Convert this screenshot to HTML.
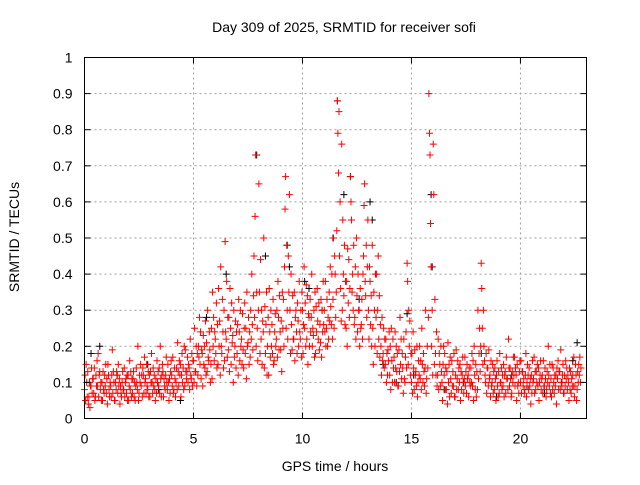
<!DOCTYPE html>
<html><head><meta charset="utf-8"><style>
body{margin:0;background:#fff;}
svg text{font-family:"Liberation Sans",sans-serif;font-size:14px;fill:#000;}
</style></head><body>
<svg id="chart" width="640" height="480" viewBox="0 0 640 480" xmlns="http://www.w3.org/2000/svg">
<rect width="640" height="480" fill="#fff"/>
<text x="344" y="32" text-anchor="middle">Day 309 of 2025, SRMTID for receiver sofi</text>
<text x="335" y="471" text-anchor="middle">GPS time / hours</text>
<text x="19" y="237" text-anchor="middle" transform="rotate(-90 19 237)">SRMTID / TECUs</text>
<g id="grid"></g>
<g id="marks"></g>
<rect x="84.5" y="57.5" width="502" height="361" fill="none" stroke="#000" stroke-width="1"/>
<g id="ticks"></g>
</svg>
<script>
const xTicks=[0,5,10,15,20];
const yTicks=[0,0.1,0.2,0.3,0.4,0.5,0.6,0.7,0.8,0.9,1];
const yTickLabels=["0","0.1","0.2","0.3","0.4","0.5","0.6","0.7","0.8","0.9","1"];
const redTimes=[0,0.2,0.4,0.6,0.8,1,1.2,1.4,1.6,1.8,2,2.2,2.4,2.6,2.8,3,3.2,3.4,3.6,3.8,4,4.2,4.4,4.6,4.8,5,5.2,5.4,5.6,5.8,6,6.2,6.4,6.6,6.8,7,7.2,7.4,7.6,7.8,8,8.2,8.4,8.6,8.8,9,9.2,9.4,9.6,9.8,10,10.2,10.4,10.6,10.8,11,11.2,11.4,11.6,11.8,12,12.2,12.4,12.6,12.8,13,13.2,13.4,13.6,13.8,14,14.2,14.4,14.6,14.8,15,15.2,15.4,15.6,15.8,16,16.2,16.4,16.6,16.8,17,17.2,17.4,17.6,17.8,18,18.2,18.4,18.6,18.8,19,19.2,19.4,19.6,19.8,20,20.2,20.4,20.6,20.8,21,21.2,21.4,21.6,21.8,22,22.2,22.4,22.6];
const redValues=[
[.08,.12,.05,.15],[.06,.10,.03,.09],[.11,.07,.14,.05],[.09,.18,.06,.12],[.10,.05,.13,.08],
[.07,.11,.04,.15],[.09,.06,.12,.19],[.05,.10,.08,.13],[.11,.04,.09,.07],[.08,.14,.06,.10],
[.12,.05,.09,.16],[.07,.11,.13,.06],[.10,.08,.20,.05],[.09,.12,.06,.14],[.11,.07,.15,.09],
[.06,.13,.10,.18],[.12,.08,.05,.11],[.09,.14,.07,.20],[.13,.06,.11,.09],[.08,.15,.10,.05],
[.12,.09,.17,.07],[.10,.14,.08,.21],[.15,.06,.12,.18],[.09,.19,.13,.11],[.14,.08,.22,.12],
[.16,.10,.25,.13],[.12,.20,.17,.28],[.18,.09,.23,.15],[.21,.13,.30,.17],[.15,.25,.11,.35],
[.22,.18,.32,.14],[.27,.12,.42,.20],[.30,.16,.49,.24],[.19,.28,.13,.36],[.23,.10,.30,.17],
[.18,.26,.12,.33],[.22,.15,.29,.19],[.25,.11,.35,.20],[.17,.30,.22,.40],[.28,.56,.73,.20],
[.65,.35,.18,.44],[.24,.50,.14,.31],[.20,.28,.12,.36],[.26,.18,.33,.15],[.22,.30,.17,.38],
[.19,.27,.13,.35],[.58,.67,.25,.48],[.62,.30,.18,.40],[.22,.35,.16,.28],[.27,.20,.38,.24],
[.30,.18,.26,.42],[.22,.34,.15,.29],[.28,.40,.20,.25],[.18,.31,.24,.36],[.26,.21,.33,.17],
[.30,.24,.38,.20],[.22,.35,.27,.42],[.33,.50,.25,.45],[.88,.79,.68,.85],[.76,.30,.55,.40],
[.25,.38,.20,.47],[.67,.60,.55,.35],[.28,.42,.22,.50],[.30,.20,.36,.25],[.45,.59,.65,.38],
[.55,.30,.22,.42],[.48,.25,.15,.35],[.40,.18,.30,.45],[.20,.12,.28,.16],[.15,.22,.10,.18],
[.12,.20,.08,.25],[.17,.10,.24,.14],[.09,.19,.13,.28],[.14,.07,.22,.11],[.43,.38,.15,.30],
[.10,.18,.07,.24],[.13,.09,.20,.06],[.11,.16,.08,.25],[.09,.14,.30,.07],[.90,.79,.73,.54],
[.76,.62,.15,.33],[.12,.22,.08,.18],[.10,.05,.15,.20],[.08,.13,.04,.21],[.11,.07,.16,.09],
[.06,.12,.19,.08],[.10,.15,.05,.13],[.07,.11,.17,.09],[.12,.06,.14,.10],[.09,.16,.05,.20],
[.13,.08,.30,.11],[.43,.36,.25,.15],[.10,.18,.07,.14],[.12,.06,.16,.09],[.08,.14,.11,.05],
[.13,.07,.18,.10],[.09,.15,.06,.12],[.11,.08,.22,.14],[.07,.13,.10,.17],[.12,.05,.15,.09],
[.10,.16,.07,.13],[.08,.12,.18,.06],[.14,.09,.11,.04],[.11,.17,.07,.13],[.09,.14,.05,.10],
[.12,.07,.16,.09],[.08,.13,.10,.20],[.11,.06,.15,.08],[.09,.12,.04,.14],[.13,.08,.19,.10],
[.07,.12,.09,.16],[.10,.05,.14,.08],[.12,.09,.17,.06],[.08,.13,.10,.15]];
const redValues2=[
[.10,.06,.13,.04],[.09,.14,.07,.11],[.06,.12,.09,.16],[.13,.08,.10,.05],[.07,.12,.09,.15],
[.12,.08,.06,.10],[.07,.13,.10,.05],[.12,.07,.15,.09],[.06,.10,.13,.08],[.11,.07,.12,.05],
[.08,.13,.06,.11],[.10,.05,.09,.14],[.07,.12,.10,.15],[.12,.07,.17,.10],[.08,.13,.06,.12],
[.10,.07,.14,.09],[.07,.16,.10,.13],[.11,.06,.12,.15],[.08,.12,.17,.10],[.11,.07,.13,.16],
[.08,.14,.11,.06],[.13,.09,.16,.12],[.10,.14,.08,.20],[.13,.17,.10,.15],[.11,.18,.09,.16],
[.13,.20,.09,.18],[.15,.24,.11,.19],[.20,.14,.27,.12],[.16,.24,.19,.10],[.20,.28,.16,.24],
[.26,.15,.36,.20],[.18,.33,.24,.14],[.22,.38,.17,.28],[.25,.15,.32,.21],[.20,.27,.14,.24],
[.24,.16,.30,.20],[.14,.25,.32,.18],[.21,.28,.15,.24],[.26,.19,.34,.45],[.35,.25,.16,.30],
[.22,.30,.15,.27],[.18,.26,.35,.12],[.24,.17,.30,.20],[.16,.24,.29,.20],[.28,.19,.34,.24],
[.25,.33,.20,.42],[.30,.22,.45,.35],[.26,.19,.34,.22],[.30,.24,.18,.32],[.22,.30,.17,.35],
[.25,.32,.20,.37],[.28,.20,.33,.24],[.23,.30,.17,.35],[.27,.22,.32,.19],[.30,.24,.38,.26],
[.25,.33,.20,.28],[.31,.26,.40,.22],[.40,.28,.35,.52],[.45,.60,.36,.27],[.34,.48,.26,.38],
[.32,.44,.28,.36],[.40,.30,.48,.26],[.34,.24,.40,.30],[.26,.33,.22,.40],[.34,.48,.28,.42],
[.38,.26,.34,.20],[.30,.20,.40,.28],[.22,.34,.17,.26],[.18,.25,.14,.22],[.12,.19,.16,.24],
[.16,.10,.22,.14],[.20,.13,.18,.09],[.15,.22,.11,.18],[.10,.17,.24,.14],[.20,.27,.12,.18],
[.14,.08,.19,.12],[.10,.16,.12,.20],[.15,.10,.18,.13],[.11,.20,.14,.28],[.42,.20,.30,.12],
[.18,.12,.24,.09],[.15,.09,.20,.13],[.12,.18,.08,.14],[.10,.15,.06,.17],[.13,.09,.18,.06],
[.11,.16,.08,.14],[.08,.12,.17,.10],[.13,.07,.15,.11],[.09,.14,.10,.18],[.12,.08,.15,.06],
[.18,.25,.13,.20],[.30,.20,.16,.12],[.14,.09,.19,.11],[.10,.15,.07,.13],[.12,.16,.09,.06],
[.10,.14,.08,.12],[.13,.07,.17,.11],[.09,.14,.11,.06],[.12,.17,.09,.14],[.10,.07,.13,.16],
[.13,.09,.11,.07],[.10,.15,.12,.08],[.12,.07,.16,.10],[.08,.13,.10,.15],[.12,.16,.08,.11],
[.09,.14,.11,.06],[.12,.09,.15,.07],[.14,.10,.07,.12],[.11,.16,.08,.13],[.09,.12,.15,.07],
[.11,.14,.08,.12],[.13,.07,.11,.09],[.09,.15,.12,.05],[.12,.17,.10,.14]];
const blackTimes=[0.3,0.7,1.5,2.9,3.4,4.4,5.6,6.5,7.9,8.3,9.3,9.4,10.1,10.3,10.9,11.4,11.6,11.9,12.2,12.6,13.1,13.2,13.7,14.3,14.8,15.1,15.9,15.95,16.5,17.4,18.2,18.9,19.6,20.3,21.1,21.9,22.4,22.6];
const blackValues=[0.18,0.20,0.12,0.15,0.08,0.05,0.28,0.40,0.73,0.45,0.48,0.42,0.38,0.36,0.30,0.50,0.88,0.62,0.67,0.33,0.60,0.55,0.15,0.10,0.29,0.12,0.62,0.42,0.08,0.10,0.18,0.06,0.12,0.09,0.07,0.10,0.16,0.21];

const X0=84.5,X1=586.5,Y0=418.5,Y1=57.5,XMAX=23.03;
function xs(t){return X0+(X1-X0)*t/XMAX;}
function ys(v){return Y0-(Y0-Y1)*v;}
const NS="http://www.w3.org/2000/svg";
const grid=document.getElementById('grid'),ticks=document.getElementById('ticks'),marks=document.getElementById('marks');
function mk(tag,attrs,parent){const e=document.createElementNS(NS,tag);for(const k in attrs)e.setAttribute(k,attrs[k]);parent.appendChild(e);return e;}
yTicks.forEach((v,i)=>{
  if(v>0&&v<1){const g=mk('line',{x1:X0,x2:X1,y1:ys(v),y2:ys(v),stroke:'#a0a0a0','stroke-dasharray':'2,3','stroke-width':1},grid);
  
  }
  const t1=mk('line',{x1:X0,x2:X0+6,y1:ys(v),y2:ys(v),stroke:'#000'},ticks);
  
  
  const t2=mk('line',{x1:X1-6,x2:X1,y1:ys(v),y2:ys(v),stroke:'#000'},ticks);
  
  
  const l=mk('text',{x:X0-12,y:ys(v)+5,'text-anchor':'end'},ticks);l.textContent=yTickLabels[i];
  
  
});
xTicks.forEach(t=>{
  const x=xs(t);
  if(t>0){const g=mk('line',{x1:x,x2:x,y1:Y1,y2:Y0,stroke:'#a0a0a0','stroke-dasharray':'2,3','stroke-width':1},grid);
  
  }
  const t1=mk('line',{x1:x,x2:x,y1:Y0,y2:Y0-6,stroke:'#000'},ticks);
  
  
  const t2=mk('line',{x1:x,x2:x,y1:Y1,y2:Y1+6,stroke:'#000'},ticks);
  
  
  const l=mk('text',{x:x,y:Y0+25,'text-anchor':'middle'},ticks);l.textContent=String(t);
  
  
});
function cross(x,y,color,name){
  const p=mk('path',{d:`M${x-3.5},${y}H${x+3.5}M${x},${y-3.5}V${y+3.5}`,stroke:color,'stroke-width':1,fill:'none'},marks);
  
  
}
blackTimes.forEach((t,i)=>cross(xs(t),ys(blackValues[i]),'#000','black-point'));
redTimes.forEach((t,i)=>{
  redValues[i].forEach((v,j)=>{cross(xs(t+j*0.025),ys(v),'#ff0000','red-point');});
  redValues2[i].forEach((v,j)=>{cross(xs(t+0.1+j*0.025),ys(v),'#ff0000','red-point');});
});
</script>
</body></html>
